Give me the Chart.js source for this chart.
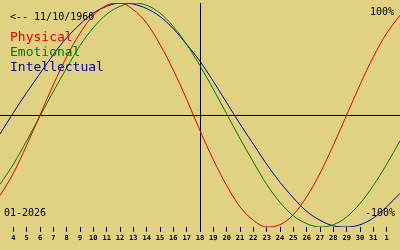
<!DOCTYPE html>
<html>
<head>
<meta charset="utf-8">
<script src="https://cdn.jsdelivr.net/npm/chart.js@4"></script>
<style>
  html, body { margin: 0; padding: 0; background: #e0d282; }
  #wrap { width: 400px; height: 250px; }
</style>
</head>
<body>
<div id="wrap"><canvas id="bio"></canvas></div>
<script>
// day of month (3..33 runs from Jan 3 to Feb 2)
const days = [3,4,5,6,7,8,9,10,11,12,13,14,15,16,17,18,19,20,21,22,23,24,25,26,27,28,29,30,31,32,33];
const physical = [-0.72,-0.52,-0.27,0.00,0.27,0.52,0.73,0.89,0.98,1.00,0.94,0.82,0.63,0.40,0.14,-0.14,-0.40,-0.63,-0.82,-0.94,-1.00,-0.98,-0.89,-0.73,-0.52,-0.27,0.00,0.27,0.52,0.73,0.89];
const emotional = [-0.62,-0.44,-0.23,-0.01,0.21,0.42,0.62,0.78,0.90,0.97,1.00,0.98,0.91,0.79,0.63,0.44,0.23,0.01,-0.21,-0.42,-0.62,-0.78,-0.90,-0.97,-1.00,-0.98,-0.91,-0.79,-0.63,-0.44,-0.23];
const intellectual = [-0.17,0.02,0.20,0.37,0.54,0.69,0.81,0.91,0.97,1.00,0.99,0.95,0.88,0.77,0.63,0.48,0.30,0.11,-0.08,-0.26,-0.44,-0.60,-0.74,-0.86,-0.94,-0.99,-1.00,-0.98,-0.92,-0.82,-0.70];
const today = 18;
const monthLabel = '01-2026';
const birthLabel = '<-- 11/10/1960';

const mono = '"DejaVu Sans Mono", monospace';
const ink = '#000000';

const mk = (label, data, color) => ({
  label, data: days.map((d, i) => ({ x: d, y: data[i] })),
  borderColor: color, borderWidth: 1, pointRadius: 0,
  cubicInterpolationMode: 'monotone', fill: false
});

const overlay = {
  id: 'overlay',
  beforeDraw(c){
    const g = c.ctx;
    g.save();
    g.fillStyle = '#e0d282';
    g.fillRect(0, 0, c.width, c.height);
    g.restore();
  },
  afterDraw(c){
    const g = c.ctx;
    g.save();
    g.textBaseline = 'middle';
    g.fillStyle = ink;
    g.font = '10px ' + mono;
    g.textAlign = 'left';
    g.fillText(birthLabel, 10, 17);
    g.fillText(monthLabel, 4, 213);
    g.textAlign = 'right';
    g.fillText('100%', 394, 12);
    g.fillText('-100%', 395, 213);
    g.textAlign = 'left';
    g.font = '13px ' + mono;
    c.data.datasets.forEach((ds, i) => {
      g.fillStyle = ds.borderColor;
      g.fillText(ds.label, 10, 38 + i * 15);
    });
    g.restore();
  }
};

new Chart(document.getElementById('bio'), {
  type: 'line',
  data: { datasets: [
    mk('Physical', physical, '#e00000'),
    mk('Emotional', emotional, '#007800'),
    mk('Intellectual', intellectual, '#000098')
  ]},
  options: {
    responsive: true, maintainAspectRatio: false, animation: false,
    layout: { padding: { top: 3, left: 0, right: 0, bottom: 0 } },
    plugins: { legend: { display: false }, tooltip: { enabled: false } },
    scales: {
      x: {
        type: 'linear', min: 3, max: 33,
        afterFit(s){ s.height = 23; s.paddingLeft = 0; s.paddingRight = 0; },
        border: { display: false },
        grid: {
          color: ctx => ctx.tick && ctx.tick.value === today ? ink : 'transparent',
          tickColor: ctx => (ctx.tick && (ctx.tick.value === 3 || ctx.tick.value === 33)) ? 'transparent' : ink,
          tickLength: 5, lineWidth: 1
        },
        ticks: {
          stepSize: 1, autoSkip: false, maxRotation: 0, padding: 2,
          color: ink, font: { family: mono, size: 7, weight: 'bold' },
          callback: v => (v === 3 || v === 33) ? '' : String(v > 31 ? v - 31 : v)
        }
      },
      y: {
        min: -1, max: 1,
        afterFit(s){ s.width = 0; s.paddingTop = 0; s.paddingBottom = 0; },
        border: { display: false },
        grid: {
          color: ctx => ctx.tick && ctx.tick.value === 0 ? ink : 'transparent',
          drawTicks: false, lineWidth: 1
        },
        ticks: { display: false, stepSize: 1 }
      }
    }
  },
  plugins: [overlay]
});
</script>
</body>
</html>
